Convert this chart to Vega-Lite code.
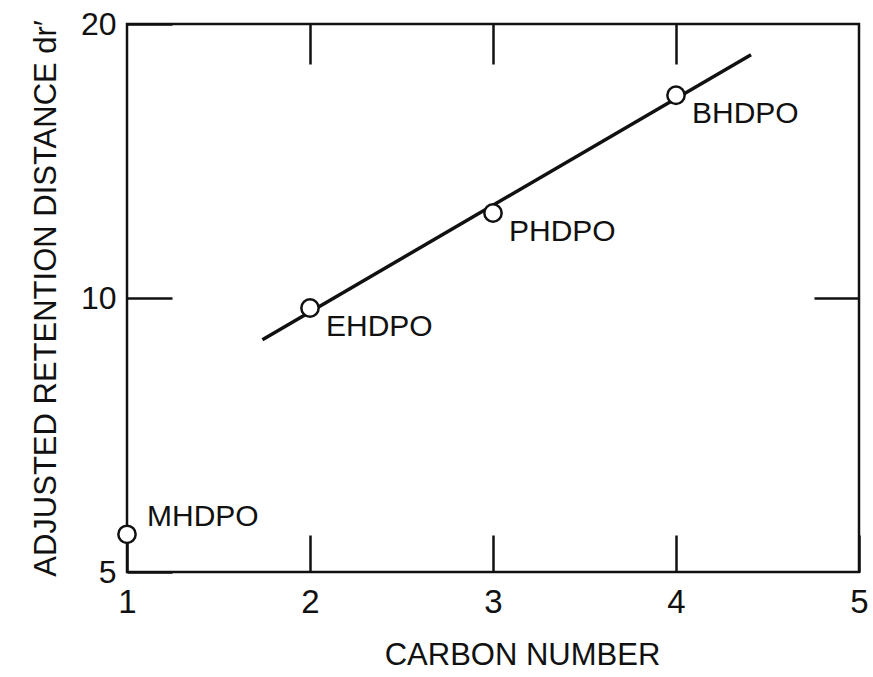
{
  "$schema": "https://vega.github.io/schema/vega-lite/v6.json",
  "autosize": {"type": "none"},
  "padding": {"left": 127, "top": 24, "right": 14, "bottom": 105},
  "width": 732,
  "height": 548,
  "background": "white",
  "config": {
    "view": {"stroke": "#111", "strokeWidth": 2.5},
    "axis": {
      "labelFont": "Liberation Sans",
      "titleFont": "Liberation Sans",
      "labelColor": "#111",
      "titleColor": "#111",
      "tickColor": "#111",
      "tickWidth": 2.5,
      "domain": false,
      "grid": false,
      "labelFlush": false,
      "labelOverlap": false,
      "titleFontWeight": "normal"
    },
    "text": {"font": "Liberation Sans", "fontSize": 30, "color": "#111"}
  },
  "datasets": {
    "compounds": [
      {"compound": "MHDPO", "carbon": 1, "d": 5.5},
      {"compound": "EHDPO", "carbon": 2, "d": 9.75},
      {"compound": "PHDPO", "carbon": 3, "d": 12.4},
      {"compound": "BHDPO", "carbon": 4, "d": 16.7}
    ],
    "fit": [
      {"carbon": 1.74, "d": 9.0},
      {"carbon": 4.41, "d": 18.5}
    ]
  },
  "resolve": {"axis": {"x": "independent", "y": "independent"}},
  "layer": [
    {
      "data": {"name": "fit"},
      "mark": {"type": "line", "color": "#111", "strokeWidth": 3.5},
      "encoding": {
        "x": {
          "field": "carbon", "type": "quantitative",
          "scale": {"domain": [1, 5], "nice": false, "zero": false},
          "axis": {
            "orient": "bottom", "values": [1, 2, 3, 4, 5], "format": "d",
            "tickSize": -37, "labelPadding": 51, "labelFontSize": 33,
            "title": "CARBON NUMBER", "titleFontSize": 31,
            "titleX": 395, "titleY": 68
          }
        },
        "y": {
          "field": "d", "type": "quantitative",
          "scale": {"type": "log", "domain": [5, 20], "nice": false, "zero": false},
          "axis": {
            "orient": "left", "values": [5, 10, 20], "format": "d",
            "tickSize": -45, "labelPadding": 56, "labelFontSize": 32,
            "title": "ADJUSTED RETENTION DISTANCE  dr′", "titleFontSize": 31,
            "titleX": -65
          }
        }
      }
    },
    {
      "data": {"name": "compounds"},
      "mark": {"type": "point", "shape": "circle", "filled": true, "fill": "white", "stroke": "#111", "strokeWidth": 2.5, "size": 300, "opacity": 1},
      "encoding": {
        "x": {
          "field": "carbon", "type": "quantitative",
          "scale": {"domain": [1, 5], "nice": false, "zero": false},
          "axis": {"orient": "top", "values": [2, 3, 4], "tickSize": -40, "labels": false, "title": null}
        },
        "y": {
          "field": "d", "type": "quantitative",
          "scale": {"type": "log", "domain": [5, 20], "nice": false, "zero": false},
          "axis": {"orient": "right", "values": [10], "tickSize": -45, "labels": false, "title": null}
        }
      }
    },
    {
      "data": {"name": "compounds"},
      "transform": [{"filter": "datum.compound !== 'MHDPO'"}],
      "mark": {"type": "text", "align": "left", "baseline": "middle", "dx": 16, "dy": 19},
      "encoding": {
        "x": {"field": "carbon", "type": "quantitative", "scale": {"domain": [1, 5], "nice": false, "zero": false}, "axis": null},
        "y": {"field": "d", "type": "quantitative", "scale": {"type": "log", "domain": [5, 20], "nice": false, "zero": false}, "axis": null},
        "text": {"field": "compound"}
      }
    },
    {
      "data": {"name": "compounds"},
      "transform": [{"filter": "datum.compound === 'MHDPO'"}],
      "mark": {"type": "text", "align": "left", "baseline": "middle", "dx": 20, "dy": -17},
      "encoding": {
        "x": {"field": "carbon", "type": "quantitative", "scale": {"domain": [1, 5], "nice": false, "zero": false}, "axis": null},
        "y": {"field": "d", "type": "quantitative", "scale": {"type": "log", "domain": [5, 20], "nice": false, "zero": false}, "axis": null},
        "text": {"field": "compound"}
      }
    }
  ]
}
